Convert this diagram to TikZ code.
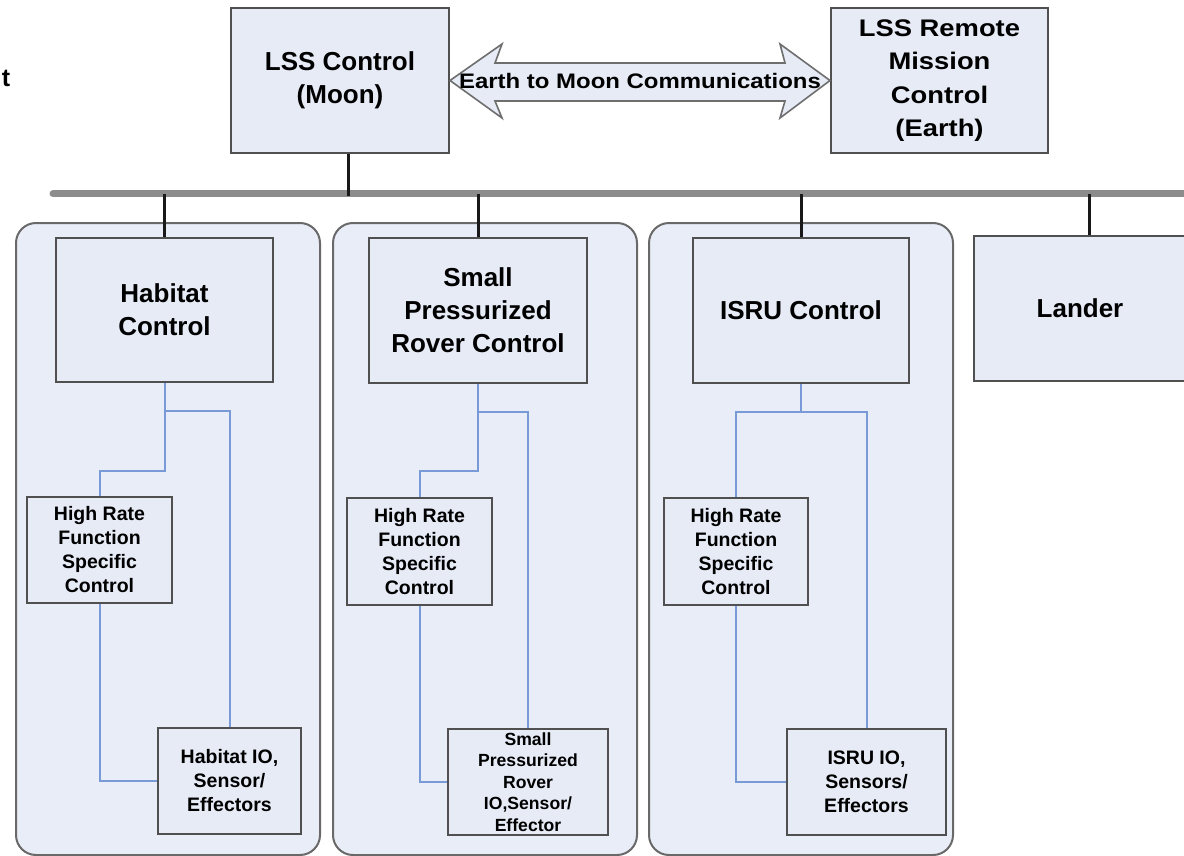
\documentclass[tikz,border=0pt]{standalone}
\usepackage{fontspec}
\setmainfont{Liberation Sans}
\newfontfamily\widefont[FakeStretch=1.14]{Liberation Sans}
\usetikzlibrary{calc}
\definecolor{boxfill}{RGB}{230,235,246}
\definecolor{panelfill}{RGB}{233,237,247}
\definecolor{boxline}{RGB}{80,80,80}
\definecolor{panelline}{RGB}{105,105,105}
\definecolor{buscol}{RGB}{140,140,140}
\definecolor{linkcol}{RGB}{120,155,215}
\definecolor{arrowline}{RGB}{110,110,110}
\begin{document}
\begin{tikzpicture}[x=1pt,y=-1pt,
  ctrlbox/.style={draw=boxline, line width=2pt, fill=boxfill, inner sep=0pt, anchor=north west, align=center,
    font=\bfseries\fontsize{26}{33}\selectfont},
  remotebox/.style={ctrlbox, font=\widefont\bfseries\fontsize{24}{33.5}\selectfont},
  smallbox/.style={draw=boxline, line width=2pt, fill=boxfill, inner sep=0pt, anchor=north west, align=center,
    font=\bfseries\fontsize{19.5}{24}\selectfont},
  panel/.style={draw=panelline, line width=2pt, fill=panelfill, rounded corners=20pt, anchor=north west, inner sep=0pt,
    minimum width=304, minimum height=632},
  bus/.style={draw=buscol, line width=7pt, line cap=round},
  stub/.style={draw=black!90, line width=3pt},
  link/.style={draw=linkcol, line width=2pt},
  commarrow/.style={draw=arrowline, line width=1.6pt, fill=boxfill, line join=miter},
  commtext/.style={inner sep=0pt, font=\widefont\bfseries\fontsize{21}{25}\selectfont}
]
\useasboundingbox (0,0) rectangle (1184,856);
\clip (0,0) rectangle (1184,856);

% fragment of cropped text at left edge
\node[font=\bfseries\fontsize{25}{30}\selectfont, inner sep=0pt, anchor=base] (frag) at (6,87) {t};

% panels
\node[panel] (p1) at (15,222) {};
\node[panel] (p2) at (332,222) {};
\node[panel] (p3) at (648,222) {};

% top boxes
\node[ctrlbox, minimum width=218, minimum height=145] (lss) at (230,7) {LSS Control\\(Moon)};
\node[remotebox, minimum width=217, minimum height=145] (remote) at (830,7) {LSS Remote\\Mission\\Control\\(Earth)};

% communications arrow
\path (lss.east) coordinate (aL) (remote.west) coordinate (aR);
\draw[commarrow] (aL) -- ($(aL)+(52,-36.5)$) -- ($(aL)+(45,-17.5)$) -- ($(aR)+(-45,-17.5)$)
  -- ($(aR)+(-50,-36.5)$) -- (aR) -- ($(aR)+(-50,37.5)$) -- ($(aR)+(-45,20.5)$)
  -- ($(aL)+(45,20.5)$) -- ($(aL)+(52,37.5)$) -- cycle;
\node[commtext] (commlbl) at ($(aL)!0.5!(aR)$) {Earth to Moon Communications};

% control boxes
\node[ctrlbox, minimum width=217, minimum height=144] (hab) at (55,237) {Habitat\\Control};
\node[ctrlbox, minimum width=218, minimum height=145] (spr) at (368,237) {Small\\Pressurized\\Rover Control};
\node[ctrlbox, minimum width=216, minimum height=145] (isru) at (692,237) {ISRU Control};
\node[ctrlbox, minimum width=212, minimum height=145] (lander) at (973,235) {Lander};

% inner boxes
\node[smallbox, minimum width=145, minimum height=106] (hr1) at (26,496) {High Rate\\Function\\Specific\\Control};
\node[smallbox, minimum width=143, minimum height=106] (io1) at (157,727) {Habitat IO,\\Sensor/\\Effectors};
\node[smallbox, minimum width=145, minimum height=107] (hr2) at (346,497) {High Rate\\Function\\Specific\\Control};
\node[smallbox, minimum width=160, minimum height=106, font=\bfseries\fontsize{17.6}{21.5}\selectfont] (io2) at (447,728) {Small\\Pressurized\\Rover\\IO,Sensor/\\Effector};
\node[smallbox, minimum width=144, minimum height=107] (hr3) at (663,497) {High Rate\\Function\\Specific\\Control};
\node[smallbox, minimum width=159, minimum height=106] (io3) at (786,728) {ISRU IO,\\Sensors/\\Effectors};

% bus
\coordinate (busL) at (53,194);
\coordinate (busR) at (1200,194);
\draw[bus] (busL) -- (busR);

% stubs
\draw[stub] ([xshift=8pt]lss.south) -- ++(0,42);
\draw[stub] (hab.north) -- (hab.north |- busL);
\draw[stub] (spr.north) -- (spr.north |- busL);
\draw[stub] (isru.north) -- (isru.north |- busL);
\draw[stub] ([xshift=9pt]lander.north) -- ++(0,-41);

% panel 1 links
\draw[link] (hab.south) -- ++(0,88) -| (hr1.north);
\draw[link] ($(hab.south)+(0,28)$) -| (io1.north);
\draw[link] (hr1.south) |- (io1.west);

% panel 2 links
\draw[link] (spr.south) -- ++(0,87) -| (hr2.north);
\draw[link] ($(spr.south)+(0,28)$) -| (io2.north);
\draw[link] (hr2.south) |- (io2.west);

% panel 3 links
\draw[link] (isru.south) -- ++(0,28) coordinate (j3);
\draw[link] (j3) -| (hr3.north);
\draw[link] (j3) -| (io3.north);
\draw[link] (hr3.south) |- (io3.west);
\end{tikzpicture}
\end{document}
